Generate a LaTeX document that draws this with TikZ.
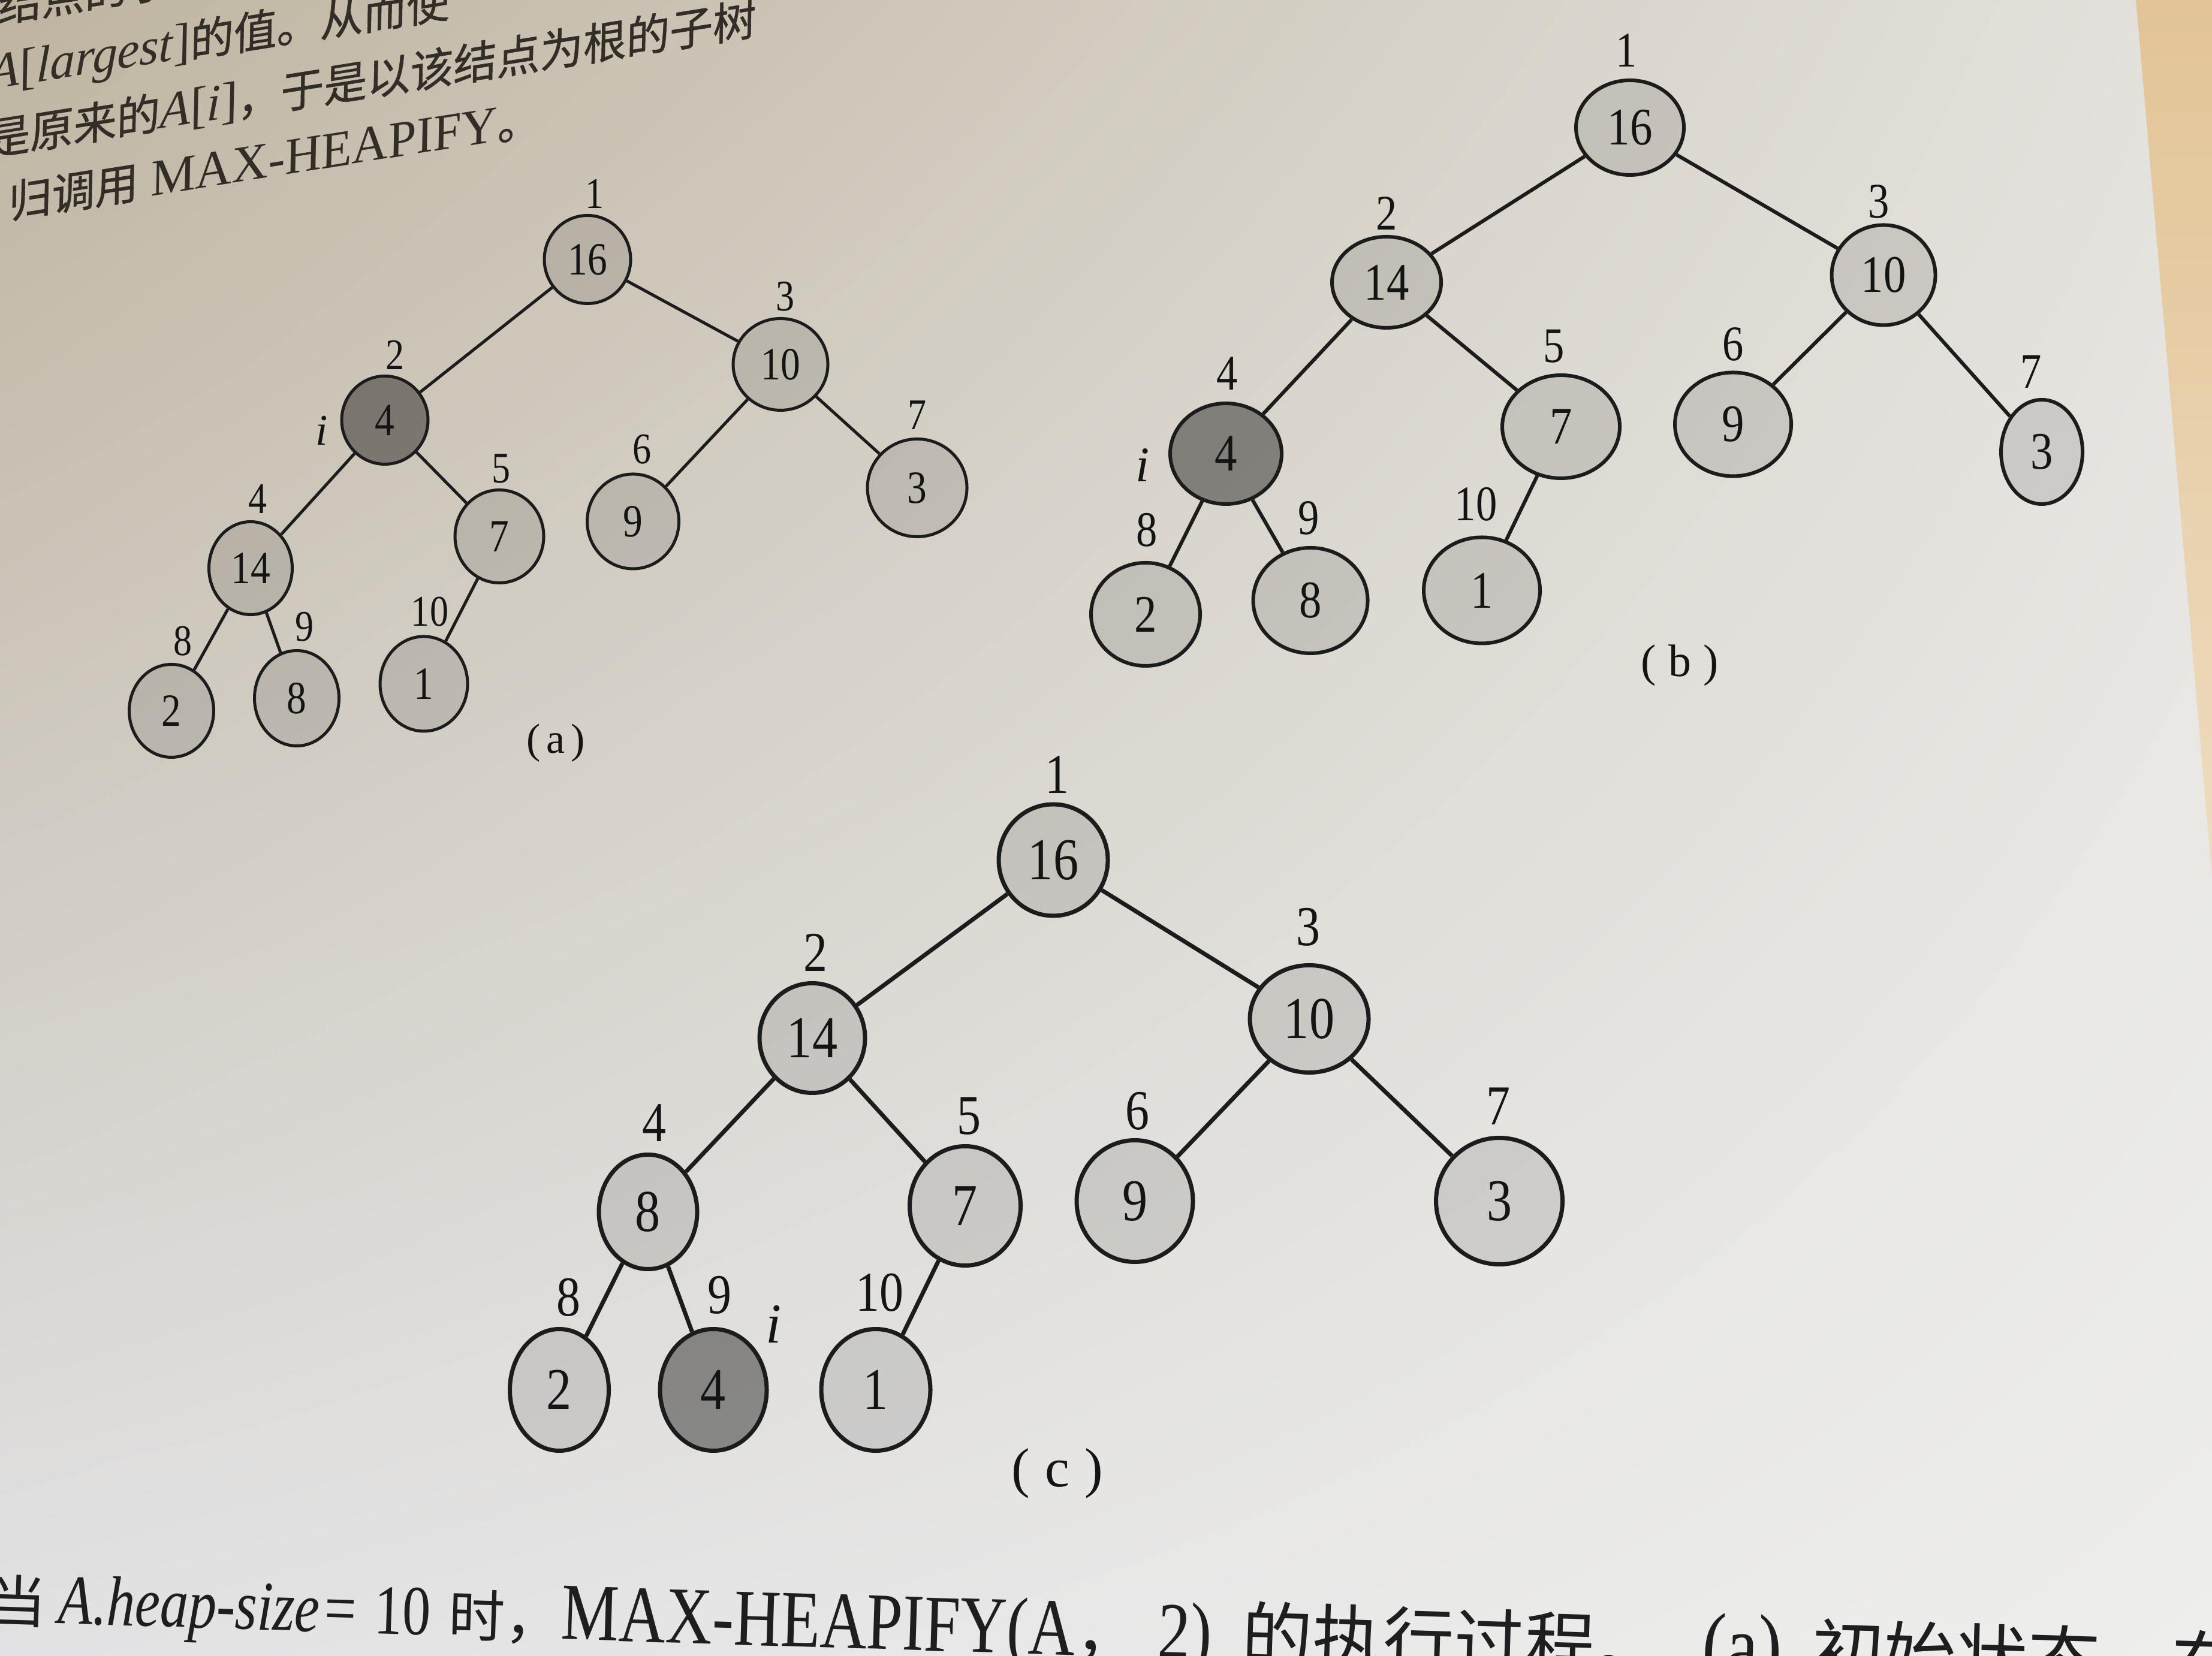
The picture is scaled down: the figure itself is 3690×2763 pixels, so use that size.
\documentclass[tikz,border=0pt]{standalone}
\usepackage{fontspec}
\setmainfont{Liberation Serif}
\newfontfamily\cjk{Noto Sans CJK SC}
\newfontfamily\cjkb[FakeBold=0.8]{Noto Sans CJK SC}
\usepackage{graphicx}
\usetikzlibrary{shapes.geometric,shadings}
\definecolor{inkc}{RGB}{28,28,28}
\definecolor{numc}{RGB}{20,20,20}
\definecolor{toptxt}{RGB}{50,45,38}
\definecolor{captxt}{RGB}{30,30,32}
\definecolor{bgul}{RGB}{190,180,160}
\definecolor{bgur}{RGB}{228,226,221}
\definecolor{bgll}{RGB}{226,226,228}
\definecolor{bglr}{RGB}{238,238,236}
\definecolor{warmt}{RGB}{226,196,150}
\definecolor{warmb}{RGB}{238,220,192}
\newcommand\nm[1]{\scalebox{0.85}[1]{#1}}
\newcommand\fs[1]{\fontsize{#1pt}{#1pt}\selectfont}
\newcommand\lat[1]{{\rmfamily\scalebox{1}[1.25]{#1}}}
\begin{document}
\begin{tikzpicture}[x=0.1pt,y=-0.1pt,
  hn/.style={ellipse, inner sep=0pt, draw=inkc, fill=black, fill opacity=0.10, text opacity=1, text=numc},
  dn/.style={hn, fill opacity=0.40},
  sz/.style 2 args={minimum width=#1*0.1pt, minimum height=#2*0.1pt},
  lab/.style={inner sep=0pt, text=numc},
  lnk/.style={draw=inkc},
  tl/.style={anchor=base west, inner sep=0pt, text=toptxt, rotate=9, xslant=0.18},
  capt/.style={anchor=base west, inner sep=0pt, text=captxt, rotate=-1.8}]
\useasboundingbox (0,0) rectangle (3690,2763);
\clip (0,0) rectangle (3690,2763);
\shade[upper left=bgul, upper right=bgur, lower left=bgll, lower right=bglr] (0,0) rectangle (3690,2763);
\shade[top color=warmt, bottom color=warmb] (3563,0) -- (3690,0) -- (3690,1463) -- cycle;

% ---------- tree (a)
\begin{scope}[line width=0.5pt, every node/.append style={font=\fs{7.7}}]
\node[hn, sz={144}{147}] (a1) at (980,433) {\nm{16}};
\node[dn, sz={144}{147}] (a2) at (642,701) {\nm{4}};
\node[hn, sz={158}{153}] (a3) at (1302,608) {\nm{10}};
\node[hn, sz={139}{155}] (a4) at (418,948) {\nm{14}};
\node[hn, sz={148}{155}] (a5) at (833,895) {\nm{7}};
\node[hn, sz={153}{158}] (a6) at (1056,870) {\nm{9}};
\node[hn, sz={166}{163}] (a7) at (1530,814) {\nm{3}};
\node[hn, sz={141}{155}] (a8) at (286,1186) {\nm{2}};
\node[hn, sz={141}{159}] (a9) at (495,1165) {\nm{8}};
\node[hn, sz={146}{158}] (a10) at (707,1141) {\nm{1}};
\draw[lnk] (a1) -- (a2); \draw[lnk] (a1) -- (a3);
\draw[lnk] (a2) -- (a4); \draw[lnk] (a2) -- (a5);
\draw[lnk] (a3) -- (a6); \draw[lnk] (a3) -- (a7);
\draw[lnk] (a4) -- (a8); \draw[lnk] (a4) -- (a9);
\draw[lnk] (a5) -- (a10);
\begin{scope}[every node/.append style={font=\fs{7.3}}]
\node[lab] (la1) at (992,323) {\nm{1}};
\node[lab] (la2) at (659,592) {\nm{2}};
\node[lab] (la3) at (1310,495) {\nm{3}};
\node[lab] (la4) at (430,833) {\nm{4}};
\node[lab] (la5) at (836,782) {\nm{5}};
\node[lab] (la6) at (1071,750) {\nm{6}};
\node[lab] (la7) at (1530,693) {\nm{7}};
\node[lab] (la8) at (305,1070) {\nm{8}};
\node[lab] (la9) at (508,1046) {\nm{9}};
\node[lab] (la10) at (717,1021) {\nm{10}};
\node[lab] (ai) at (537,718) {\textit{i}};
\end{scope}
\node[lab, font=\fs{7}] (capa) at (927,1240) {(\kern1pt a\kern1pt)};
\end{scope}

% ---------- tree (b)
\begin{scope}[line width=0.6pt, every node/.append style={font=\fs{8.8}}]
\node[hn, sz={180}{158}] (b1) at (2719,213) {\nm{16}};
\node[hn, sz={182}{152}] (b2) at (2313,471) {\nm{14}};
\node[hn, sz={173}{167}] (b3) at (3142,459) {\nm{10}};
\node[dn, sz={186}{168}] (b4) at (2045,757) {\nm{4}};
\node[hn, sz={196}{172}] (b5) at (2604,712) {\nm{7}};
\node[hn, sz={194}{173}] (b6) at (2891,708) {\nm{9}};
\node[hn, sz={136}{174}] (b7) at (3406,754) {\nm{3}};
\node[hn, sz={182}{172}] (b8) at (1911,1025) {\nm{2}};
\node[hn, sz={191}{176}] (b9) at (2186,1002) {\nm{8}};
\node[hn, sz={194}{177}] (b10) at (2472,985) {\nm{1}};
\draw[lnk] (b1) -- (b2); \draw[lnk] (b1) -- (b3);
\draw[lnk] (b2) -- (b4); \draw[lnk] (b2) -- (b5);
\draw[lnk] (b3) -- (b6); \draw[lnk] (b3) -- (b7);
\draw[lnk] (b4) -- (b8); \draw[lnk] (b4) -- (b9);
\draw[lnk] (b5) -- (b10);
\begin{scope}[every node/.append style={font=\fs{8.3}}]
\node[lab] (lb1) at (2713,84) {\nm{1}};
\node[lab] (lb2) at (2313,356) {\nm{2}};
\node[lab] (lb3) at (3134,336) {\nm{3}};
\node[lab] (lb4) at (2047,623) {\nm{4}};
\node[lab] (lb5) at (2592,578) {\nm{5}};
\node[lab] (lb6) at (2891,574) {\nm{6}};
\node[lab] (lb7) at (3388,620) {\nm{7}};
\node[lab] (lb8) at (1913,884) {\nm{8}};
\node[lab] (lb9) at (2183,864) {\nm{9}};
\node[lab] (lb10) at (2462,841) {\nm{10}};
\node[lab] (bi) at (1906,776) {\textit{i}};
\end{scope}
\node[lab, font=\fs{7.6}] (capb) at (2802,1110) {(\kern2pt b\kern2pt)};
\end{scope}

% ---------- tree (c)
\begin{scope}[line width=0.7pt, every node/.append style={font=\fs{9.9}}]
\node[hn, sz={182}{186}] (c1) at (1757,1435) {\nm{16}};
\node[hn, sz={176}{183}] (c2) at (1355,1732) {\nm{14}};
\node[hn, sz={198}{179}] (c3) at (2184,1700) {\nm{10}};
\node[hn, sz={164}{191}] (c4) at (1081,2022) {\nm{8}};
\node[hn, sz={185}{199}] (c5) at (1610,2012) {\nm{7}};
\node[hn, sz={194}{203}] (c6) at (1893,2004) {\nm{9}};
\node[hn, sz={211}{211}] (c7) at (2501,2004) {\nm{3}};
\node[hn, sz={165}{203}] (c8) at (933,2319) {\nm{2}};
\node[dn, sz={178}{203}] (c9) at (1190,2319) {\nm{4}};
\node[hn, sz={182}{203}] (c10) at (1461,2319) {\nm{1}};
\draw[lnk] (c1) -- (c2); \draw[lnk] (c1) -- (c3);
\draw[lnk] (c2) -- (c4); \draw[lnk] (c2) -- (c5);
\draw[lnk] (c3) -- (c6); \draw[lnk] (c3) -- (c7);
\draw[lnk] (c4) -- (c8); \draw[lnk] (c4) -- (c9);
\draw[lnk] (c5) -- (c10);
\begin{scope}[every node/.append style={font=\fs{9.4}}]
\node[lab] (lc1) at (1763,1292) {\nm{1}};
\node[lab] (lc2) at (1360,1589) {\nm{2}};
\node[lab] (lc3) at (2182,1547) {\nm{3}};
\node[lab] (lc4) at (1091,1874) {\nm{4}};
\node[lab] (lc5) at (1616,1862) {\nm{5}};
\node[lab] (lc6) at (1897,1854) {\nm{6}};
\node[lab] (lc7) at (2499,1846) {\nm{7}};
\node[lab] (lc8) at (948,2165) {\nm{8}};
\node[lab] (lc9) at (1200,2161) {\nm{9}};
\node[lab] (lc10) at (1467,2157) {\nm{10}};
\node[lab] (ci) at (1291,2209) {\textit{i}};
\end{scope}
\node[lab, font=\fs{9.2}] (capc) at (1764,2458) {(\kern2.5pt c\kern2.5pt)};
\end{scope}

% ---------- running text at the top
\node[tl] (t1) at (-5,38) {{\cjkb\fs{7.3}结点的子}};
\node[tl] (t2) at (-20,150) {\fs{8.4}\textit{A}[\textit{largest}]{\cjkb\fs{7.3}的值。从而使}};
\node[tl] (t3) at (-24,261) {{\cjkb\fs{7.3}是原来的}\fs{8.4}\textit{A}[\textit{i}]{\cjkb\fs{7.3}，于是以该结点为根的子树}};
\node[tl] (t4) at (12,365) {{\cjkb\fs{7.3}归调用}\fs{8.5} MAX-HEAPIFY{\cjkb\fs{7.3}。}};

% ---------- caption at the bottom
\node[capt] (cap) at (-19,2705) {{\cjk\fs{9.4}当}\kern2pt\lat{\fs{9.4}\textit{A.heap-size}\kern0.8pt=\kern3pt 10}\kern3pt{\cjk\fs{9.4}时，}\lat{\fs{10.8}MAX-HEAPIFY(A}{\cjk\fs{10.8}，}\kern3pt\lat{\fs{10.8}2)}\kern5pt{\cjk\fs{11.8}的执行过程。}\kern6pt\lat{\fs{12}(a)}\kern5pt{\cjk\fs{12}初始状态，在结}};
\end{tikzpicture}
\end{document}
